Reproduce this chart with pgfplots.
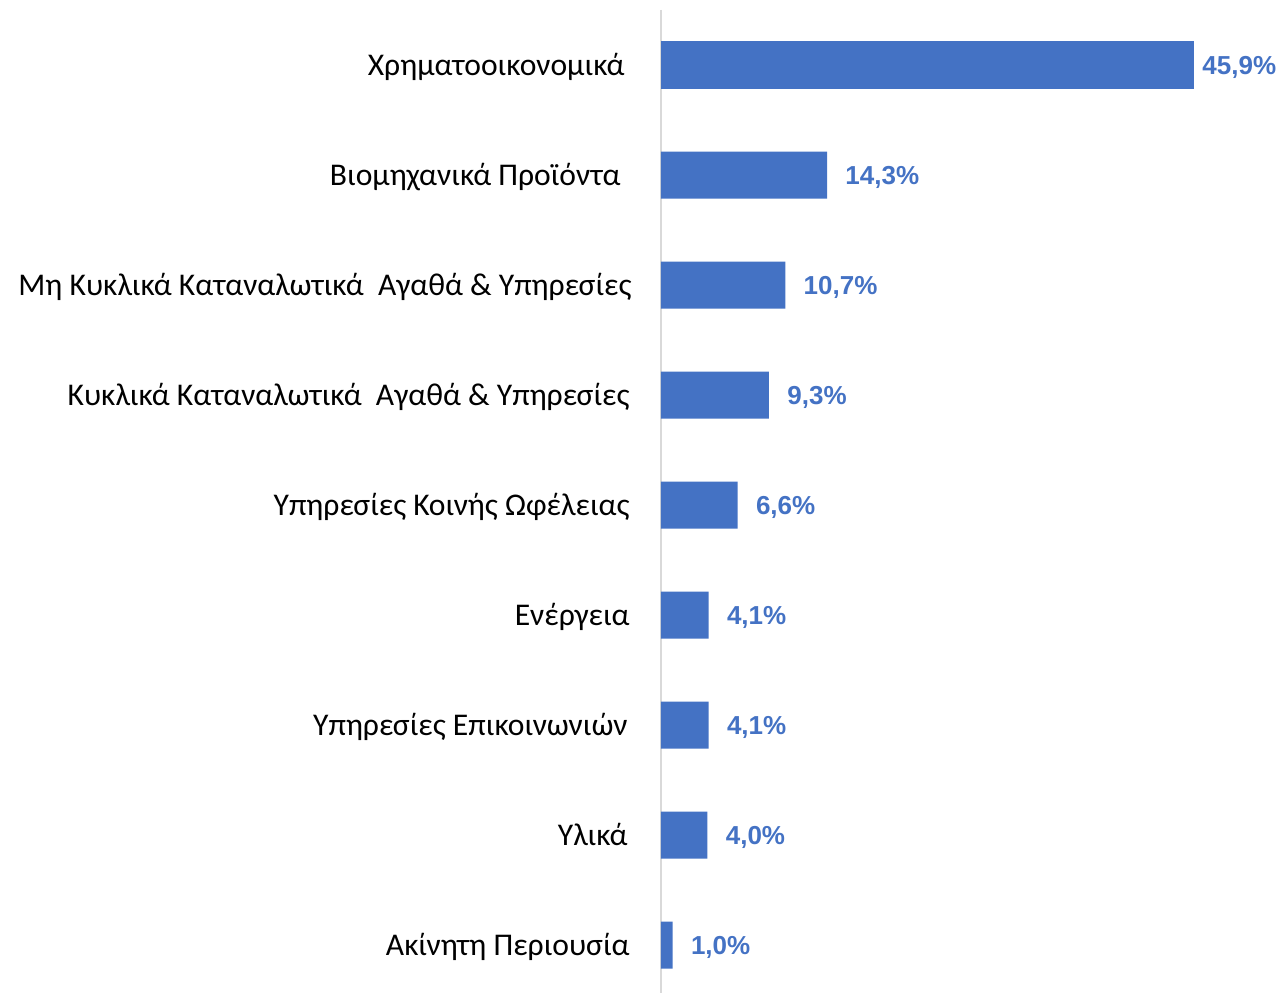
\documentclass[border=0pt]{standalone}
\usepackage{pgfplots}
\pgfplotsset{compat=1.18}
\usepackage{fontspec}
\setmainfont{Carlito}
\newfontfamily\catfont{Carlito}
\newfontfamily\valfont{Liberation Sans}
\definecolor{barblue}{HTML}{4472C4}
\definecolor{axgray}{HTML}{D9D9D9}
\begin{document}
\begin{tikzpicture}
\begin{axis}[
  name=ax,
  scale only axis,
  width=309.5pt, height=491.5pt,
  xmin=0, xmax=53.3,
  ymin=-0.5, ymax=8.436,
  y dir=reverse,
  axis x line=none,
  axis y line*=left,
  y axis line style={draw=axgray, line width=1pt, -},
  xtick=\empty,
  ytick={0,1,2,3,4,5,6,7,8},
  major tick length=0pt,
  yticklabels={
    {Χρηματοοικονομικά\kern2.5pt},
    {Βιομηχανικά Προϊόντα\kern4.5pt},
    {Μη Κυκλικά Καταναλωτικά\ \ Αγαθά \& Υπηρεσίες\kern-1pt},
    {Κυκλικά Καταναλωτικά\ \ Αγαθά \& Υπηρεσίες},
    {Υπηρεσίες Κοινής Ωφέλειας},
    {Ενέργεια},
    {Υπηρεσίες Επικοινωνιών\kern1pt},
    {Υλικά\kern1pt},
    {Ακίνητη Περιουσία}
  },
  yticklabel style={font=\catfont\fontsize{15.8}{19}\selectfont, anchor=base east, inner sep=0pt, xshift=-15.5pt, yshift=-5.25pt},
  clip=false,
  nodes near coords={\pgfmathprintnumber[fixed,fixed zerofill,precision=1,use comma,assume math mode=true]{\pgfplotspointmeta}\%},
  point meta=x,
]
\addplot[xbar, bar shift=0pt, bar width=23.5pt, fill=barblue, draw=none,
  every node near coord/.append style={font=\valfont\bfseries\fontsize{13}{15}\selectfont, text=barblue, anchor=base west, inner sep=0pt, xshift=4pt, yshift=-4.65pt}]
  coordinates {(45.9,0)};
\addplot[xbar, bar shift=0pt, bar width=23.5pt, fill=barblue, draw=none,
  every node near coord/.append style={font=\valfont\bfseries\fontsize{13}{15}\selectfont, text=barblue, anchor=base west, inner sep=0pt, xshift=9pt, yshift=-4.65pt}]
  coordinates {(14.3,1) (10.7,2) (9.3,3) (6.6,4) (4.1,5) (4.1,6) (4.0,7) (1.0,8)};
\end{axis}
\pgfresetboundingbox
\path ([xshift=-330.5pt,yshift=5pt]ax.north west) rectangle (ax.south east);
\end{tikzpicture}
\end{document}
